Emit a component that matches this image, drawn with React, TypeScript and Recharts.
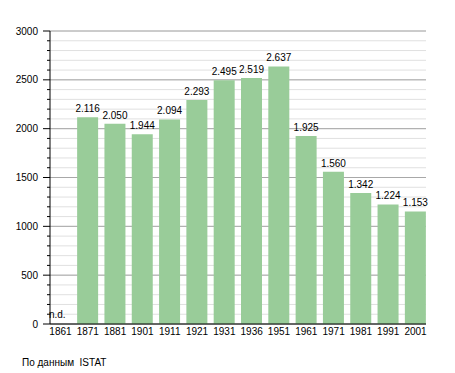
import { BarChart, Bar, XAxis, YAxis, CartesianGrid, LabelList, ReferenceLine } from 'recharts';

const YEARS = ['1861', '1871', '1881', '1901', '1911', '1921', '1931', '1936', '1951', '1961', '1971', '1981', '1991', '2001'];
const POPULATION: (number | null)[] = [null, 2116, 2050, 1944, 2094, 2293, 2495, 2519, 2637, 1925, 1560, 1342, 1224, 1153];
const MINOR_TICKS = Array.from({ length: 31 }, (_, i) => i * 100);
const MAJOR_TICKS = [0, 500, 1000, 1500, 2000, 2500, 3000];

const FONT = '"Liberation Sans", Arial, sans-serif';

const data = YEARS.map((year, i) => ({ year, value: POPULATION[i] }));

const formatValue = (v: number) => String(v).replace(/\B(?=(\d{3})+(?!\d))/g, '.');

const YTick = (props: any) => {
  const { x, y, payload } = props;
  const major = payload.value % 500 === 0;
  return (
    <g>
      <line x1={x - (major ? 7 : 3)} x2={x} y1={y} y2={y} stroke="#000" strokeWidth={1} />
      {major && (
        <text x={x - 12} y={y} dy={3.5} textAnchor="end" fontSize={10} fontFamily={FONT} fill="#000">
          {payload.value}
        </text>
      )}
    </g>
  );
};

const NotAvailable = (props: any) => {
  const { viewBox } = props;
  return (
    <text x={viewBox.x - 11.5} y={viewBox.y + viewBox.height - 6} fontSize={10} fontFamily={FONT} fill="#000">
      n.d.
    </text>
  );
};

export default function App() {
  return (
    <div style={{ position: 'absolute', left: 0, top: 0, width: 455, height: 373, background: '#fff' }}>
      <BarChart width={455} height={373} data={data} margin={{ top: 31, right: 29, left: 0, bottom: 29 }}>
        <CartesianGrid vertical={false} stroke="#e0e0e0" horizontalValues={MINOR_TICKS} />
        <CartesianGrid vertical={false} stroke="#a8a8a8" horizontalValues={MAJOR_TICKS} />
        <XAxis
          dataKey="year"
          padding={{ left: -3.18, right: -3.18 }}
          height={20}
          tickLine={false}
          axisLine={{ stroke: '#000' }}
          tick={{ fontSize: 10, fontFamily: FONT, fill: '#000' }}
          tickSize={4}
          tickMargin={0}
          interval={0}
        />
        <YAxis
          width={50}
          domain={[0, 3000]}
          ticks={MINOR_TICKS}
          interval={0}
          tickSize={0}
          tickMargin={0}
          tickLine={false}
          axisLine={{ stroke: '#000' }}
          tick={<YTick />}
        />
        <ReferenceLine x="1861" stroke="none" label={<NotAvailable />} />
        <Bar dataKey="value" fill="#99cc99" barSize={21} isAnimationActive={false}>
          <LabelList
            dataKey="value"
            position="top"
            offset={5}
            formatter={(v: any) => (v == null ? '' : formatValue(v))}
            style={{ fontSize: 10, fontFamily: FONT, fill: '#000' }}
          />
        </Bar>
      </BarChart>
      <div style={{ position: 'absolute', left: 22, top: 357, fontSize: 10, fontFamily: FONT, color: '#000', whiteSpace: 'pre' }}>
        По данным  ISTAT
      </div>
    </div>
  );
}
